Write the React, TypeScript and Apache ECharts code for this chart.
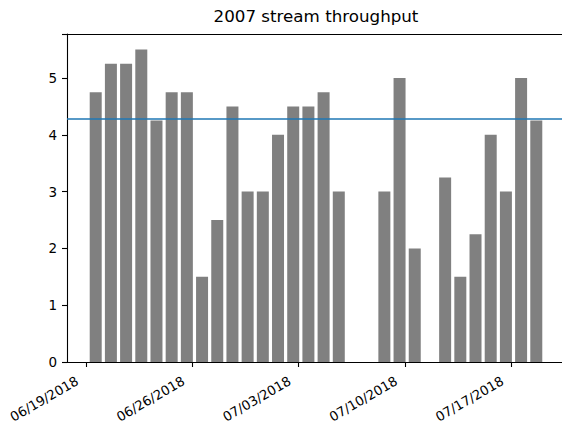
import React, { useEffect, useRef } from "react";
import * as echarts from "echarts";

// Data
const dates: string[] = [
  "2018-06-19", "2018-06-20", "2018-06-21", "2018-06-22", "2018-06-23", "2018-06-24",
  "2018-06-25", "2018-06-26", "2018-06-27", "2018-06-28", "2018-06-29", "2018-06-30",
  "2018-07-01", "2018-07-02", "2018-07-03", "2018-07-04", "2018-07-05",
  "2018-07-08", "2018-07-09", "2018-07-10",
  "2018-07-12", "2018-07-13", "2018-07-14", "2018-07-15", "2018-07-16", "2018-07-17", "2018-07-18",
];
const throughput: number[] = [
  4.75, 5.25, 5.25, 5.5, 4.25, 4.75,
  4.75, 1.5, 2.5, 4.5, 3.0, 3.0,
  4.0, 4.5, 4.5, 4.75, 3.0,
  3.0, 5.0, 2.0,
  3.25, 1.5, 2.25, 4.0, 3.0, 5.0, 4.25,
];
const tickDates: string[] = ["2018-06-19", "2018-06-26", "2018-07-03", "2018-07-10", "2018-07-17"];
const referenceLevel = 4.28;
const titleText = "2007 stream throughput";

const DAY = 86400000;
const ORIGIN = Date.UTC(2018, 5, 19);
const BAR_TIME_OFFSET = 0.65; // bars sit in the afternoon of each day

const toDay = (s: string) => {
  const [y, m, d] = s.split("-").map(Number);
  return (Date.UTC(y, m - 1, d) - ORIGIN) / DAY;
};
const fmt = (v: number) => {
  const dt = new Date(ORIGIN + Math.round(v) * DAY);
  const mm = String(dt.getUTCMonth() + 1).padStart(2, "0");
  const dd = String(dt.getUTCDate()).padStart(2, "0");
  return `${mm}/${dd}/${dt.getUTCFullYear()}`;
};

const FONT = "DejaVu Sans";

export default function App() {
  const ref = useRef<HTMLDivElement>(null);
  useEffect(() => {
    document.body.style.margin = "0";
    document.body.style.overflow = "hidden";
    if (!ref.current) return;
    const chart = echarts.init(ref.current, undefined, { renderer: "svg" });
    const barData = dates.map((d, i) => [toDay(d) + BAR_TIME_OFFSET, throughput[i]]);
    const tickVals = tickDates.map(toDay);
    const xMin = -1.24;
    const xMax = 31.54;
    chart.setOption({
      animation: false,
      backgroundColor: "#ffffff",
      textStyle: { fontFamily: FONT },
      grid: {
        left: 67,
        top: 34,
        right: -3,
        bottom: 63,
        containLabel: false,
        outerBoundsMode: "none",
      },
      graphic: [
        {
          type: "text",
          x: 316,
          y: 7,
          style: {
            text: titleText,
            font: `16.7px '${FONT}'`,
            fill: "#000",
            textAlign: "center",
            textVerticalAlign: "top",
          },
        },
      ],
      xAxis: [
        {
          type: "value",
          min: xMin,
          max: xMax,
          axisLine: { show: true, lineStyle: { color: "#000", width: 1.1 } },
          axisTick: {
            show: true,
            length: 5,
            customValues: tickVals,
            lineStyle: { color: "#000", width: 1.1 },
          },
          axisLabel: {
            customValues: tickVals,
            formatter: (v: number) => fmt(v),
            rotate: 30,
            margin: 13,
            padding: [0, 10, 0, 0],
            fontSize: 13.2,
            color: "#000",
            fontFamily: FONT,
          },
          splitLine: { show: false },
        },
        {
          type: "value",
          position: "top",
          min: xMin,
          max: xMax,
          axisLine: { show: true, onZero: false, lineStyle: { color: "#000", width: 1.1 } },
          axisTick: { show: false },
          axisLabel: { show: false },
          splitLine: { show: false },
        },
      ],
      yAxis: {
        type: "value",
        min: 0,
        max: 5.775,
        interval: 1,
        axisLine: { show: true, onZero: false, lineStyle: { color: "#000", width: 1.1 } },
        axisTick: { show: true, length: 5, lineStyle: { color: "#000", width: 1.1 } },
        axisLabel: {
          margin: 10,
          fontSize: 13.5,
          color: "#000",
          fontFamily: FONT,
          formatter: (v: number) => (Math.abs(v - Math.round(v)) < 1e-9 ? String(Math.round(v)) : ""),
        },
        splitLine: { show: false },
      },
      series: [
        {
          type: "bar",
          xAxisIndex: 0,
          data: barData,
          barWidth: 12,
          itemStyle: { color: "#808080" },
          markLine: {
            silent: true,
            symbol: "none",
            label: { show: false },
            lineStyle: { color: "#1f77b4", width: 1.5, type: "solid" },
            data: [{ yAxis: referenceLevel }],
          },
        },
      ],
    });
    return () => chart.dispose();
  }, []);
  return <div ref={ref} style={{ width: 562, height: 425 }} />;
}
